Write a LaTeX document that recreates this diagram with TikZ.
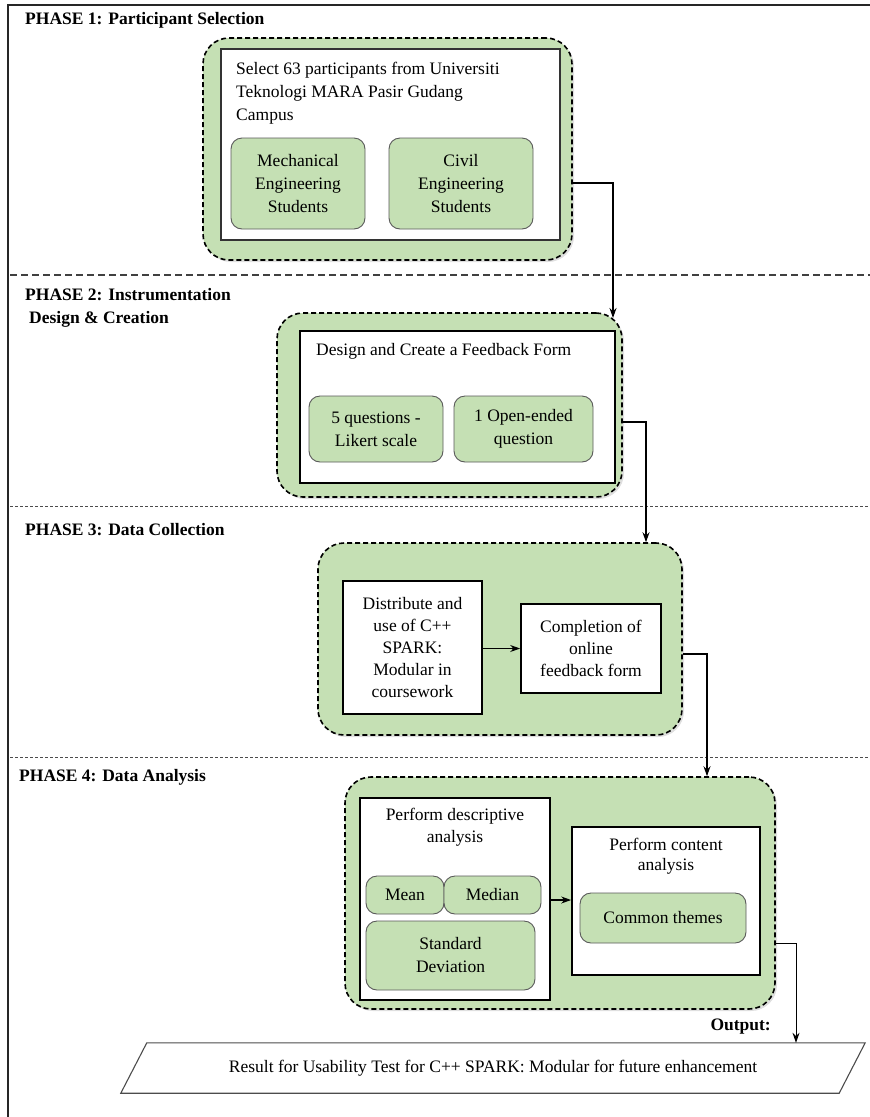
\documentclass[tikz,border=0pt]{standalone}
\usepackage{fontspec}
\setmainfont{Liberation Serif}
\usetikzlibrary{shapes.geometric,arrows.meta,shadows}
\definecolor{lgreen}{HTML}{C5E0B4}
\definecolor{bgray}{HTML}{5A5A5A}
\newcommand{\mytxt}{\fontsize{17.5}{23}\selectfont}
\newcommand{\mytxtb}{\fontsize{17.5}{22}\selectfont}
\begin{document}
\begin{tikzpicture}[x=1pt,y=-1pt,
  grp/.style={draw=black, dash pattern=on 5pt off 3pt, line width=1.6pt, fill=lgreen,
    rounded corners=26pt, inner sep=0pt,
    drop shadow={opacity=0.25,shadow xshift=2pt,shadow yshift=-2pt}},
  wbox/.style={draw=black, line width=1.4pt, fill=white, inner sep=0pt},
  gbox/.style={draw=bgray, line width=0.9pt, fill=lgreen, rounded corners=11pt,
    align=center, inner sep=0pt, font=\mytxt},
  txt/.style={font=\mytxt, inner sep=0pt},
  phase/.style={font=\mytxt\bfseries, anchor=west, inner sep=0pt, align=left},
  arr/.style={-{Stealth[length=10pt,width=7pt]}, line width=1.3pt},
  sepa/.style={draw=black!75, line width=1.1pt, dash pattern=on 7pt off 4pt},
  sepb/.style={draw=black!70, line width=0.9pt, dash pattern=on 3pt off 2pt},
  para/.style={draw=black!70, line width=1.1pt}]
\useasboundingbox (0,0) rectangle (870,1117);

% outer frame
\draw[line width=2.2pt, draw=black!85] (8,1117) -- (8,5) -- (870,5);

% separators
\draw[sepa] (10,275) -- (870,275);
\draw[sepb] (10,506) -- (870,506);
\draw[sepb] (10,757) -- (870,757);

% phase titles
\node[phase] (p1) at (25,20) {PHASE 1: Participant Selection};
\node[phase] (p2) at (25,308) {PHASE 2: Instrumentation\\\hspace{4pt}Design \& Creation};
\node[phase] (p3) at (25,530) {PHASE 3: Data Collection};
\node[phase] (p4) at (19,777) {PHASE 4: Data Analysis};

% Phase 1
\node[grp, minimum width=369pt, minimum height=222pt] (g1) at (387.5,149) {};
\node[wbox, draw=black!80, line width=1.1pt, minimum width=339pt, minimum height=191pt] (w1) at (390.5,144.5) {};
\node[txt, anchor=west, align=left] (t1) at (236,93) {Select 63 participants from Universiti\\Teknologi MARA Pasir Gudang\\Campus};
\node[gbox, minimum width=134pt, minimum height=91pt] (m1) at (298,183.5) {Mechanical\\Engineering\\Students};
\node[gbox, minimum width=144pt, minimum height=91pt] (c1) at (461,183.5) {Civil\\Engineering\\Students};

% Phase 2
\node[grp, minimum width=345pt, minimum height=184pt] (g2) at (449.5,405) {};
\node[wbox, line width=1.7pt, minimum width=315pt, minimum height=152pt] (w2) at (457.5,407) {};
\node[txt, anchor=west] (t2) at (316,351) {Design and Create a Feedback Form};
\node[gbox, minimum width=134pt, minimum height=66pt] (q1) at (376,429) {5 questions -\\Likert scale};
\node[gbox, minimum width=139pt, minimum height=66pt] (q2) at (523.5,429) {1 Open-ended\\question};

% Phase 3
\node[grp, minimum width=364pt, minimum height=192pt] (g3) at (500,639) {};
\node[wbox, line width=1.7pt, minimum width=139pt, minimum height=133pt, align=center, font=\mytxtb] (d1) at (412.5,647.5) {Distribute and\\use of C++\\SPARK:\\Modular in\\coursework};
\node[wbox, line width=1.7pt, minimum width=140pt, minimum height=89pt, align=center, font=\mytxtb] (d2) at (591,648.5) {Completion of\\online\\feedback form};

% Phase 4
\node[grp, minimum width=430pt, minimum height=232pt] (g4) at (560,893) {};
\node[wbox, line width=1.7pt, minimum width=190pt, minimum height=202pt] (ea) at (455,899) {};
\node[txt, align=center, font=\mytxtb] (eat) at (455,827) {Perform descriptive\\analysis};
\node[gbox, minimum width=78pt, minimum height=38pt] (mean) at (405,895) {Mean};
\node[gbox, minimum width=97pt, minimum height=38pt] (median) at (492.5,895) {Median};
\node[gbox, minimum width=169pt, minimum height=69pt] (sd) at (450.5,955.5) {Standard\\Deviation};
\node[wbox, line width=1.7pt, minimum width=188pt, minimum height=148pt] (ca) at (666,901) {};
\node[txt, align=center, font=\fontsize{17.5}{20}\selectfont] (cat) at (666,856) {Perform content\\analysis};
\node[gbox, minimum width=166pt, minimum height=50pt] (ct) at (663,918) {Common themes};

% output
\node[phase, anchor=east] (out) at (771,1027) {Output:};
\node[minimum width=718pt, minimum height=50pt, inner sep=0pt, font=\mytxt] (res) at (493,1068)
  {Result for Usability Test for C++ SPARK: Modular for future enhancement};
\draw[para] ([xshift=13pt]res.north west) -- ([xshift=13pt]res.north east)
  -- ([xshift=-13pt]res.south east) -- ([xshift=-13pt]res.south west) -- cycle;

% connectors
\coordinate (b1) at (613,183);
\coordinate (b1e) at (613,318);
\coordinate (b2) at (646,422);
\coordinate (b3) at (707,654);
\coordinate (b4) at (796,943);
\draw[arr] (g1.east |- b1) -| (b1e);
\draw[arr] (g2.east |- b2) -| (g3.north -| b2);
\draw[arr] (g3.east |- b3) -| (g4.north -| b3);
\draw[arr, line width=1pt] (g4.east |- b4) -| (res.north -| b4);
\draw[arr] (d1.east |- d2.west) -- (d2.west);
\draw[arr] (ea.east |- 0,900) -- (ca.west |- 0,900);
\end{tikzpicture}
\end{document}
